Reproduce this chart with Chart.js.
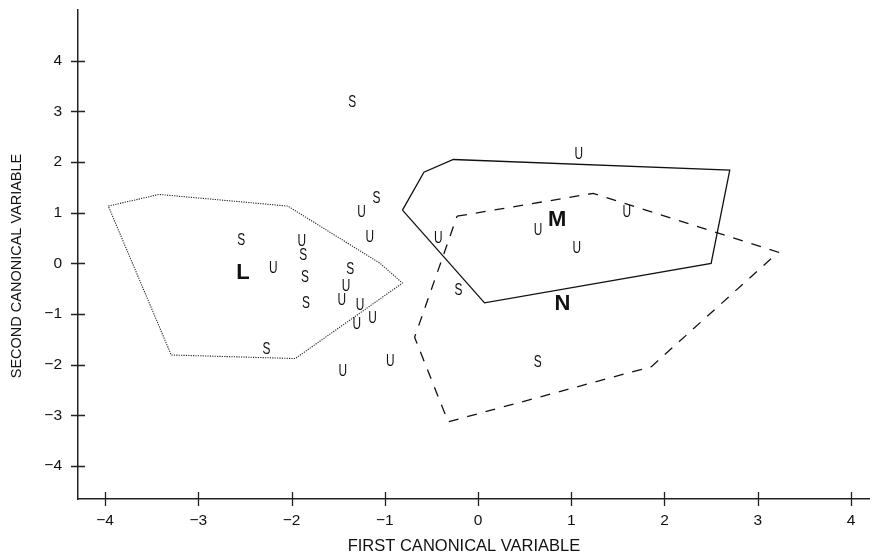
<!DOCTYPE html>
<html>
<head>
<meta charset="utf-8">
<script src="https://cdn.jsdelivr.net/npm/chart.js@4/dist/chart.umd.min.js"></script>
<style>
html,body{margin:0;padding:0;background:#fff;}
canvas{display:block;}
</style>
</head>
<body>
<canvas id="c" width="870" height="555"></canvas>
<script>
// ---- data ----
const xTicks = [-4, -3, -2, -1, 0, 1, 2, 3, 4];
const yTicks = [-4, -3, -2, -1, 0, 1, 2, 3, 4];
const xTitle = 'FIRST CANONICAL VARIABLE';
const yTitle = 'SECOND CANONICAL VARIABLE';

// region L (dotted outline)
const regionLx = [-3.965, -3.42, -2.04, -1.05, -0.81, -1.96, -3.29, -3.965];
const regionLy = [1.13, 1.36, 1.13, 0.0, -0.39, -1.88, -1.81, 1.13];
// region M (dashed outline)
const regionMx = [-0.225, 1.235, 3.22, 1.86, -0.32, -0.68, -0.225];
const regionMy = [0.93, 1.38, 0.22, -2.04, -3.13, -1.46, 0.93];
// region N (solid outline)
const regionNx = [-0.81, -0.58, -0.265, 2.70, 2.50, 0.07, -0.81];
const regionNy = [1.05, 1.80, 2.05, 1.84, 0.0, -0.78, 1.05];

// observations marked "S"
const sX = [-2.54, -1.875, -1.855, -1.845, -1.37, -2.27, -1.09, -1.35, -0.21, 0.64];
const sY = [0.48, 0.18, -0.26, -0.77, -0.11, -1.69, 1.31, 3.20, -0.51, -1.94];
// observations marked "U"
const uX = [-2.195, -1.89, -1.415, -1.46, -1.265, -1.30, -1.13, -1.25, -1.16, -0.94, -1.45, 1.08, 0.645, 1.06, 1.595, -0.425];
const uY = [-0.09, 0.46, -0.43, -0.71, -0.82, -1.18, -1.07, 1.02, 0.54, -1.91, -2.11, 2.17, 0.67, 0.32, 1.02, 0.51];
// group labels
const groupNames = ['L', 'M', 'N'];
const groupX = [-2.52, 0.85, 0.905];
const groupY = [-0.18, 0.87, -0.79];

// ---- build chart ----
const zip = (xs, ys) => xs.map((x, i) => ({x: x, y: ys[i]}));
const fmt = v => (v < 0 ? '\u2212' + Math.abs(v) : String(v));
const FONT = '"Liberation Sans", Arial, Helvetica, sans-serif';

const outline = (xs, ys, dash, width, color) => ({
  type: 'scatter', data: zip(xs, ys), showLine: true, fill: false,
  borderColor: color, borderWidth: width, borderDash: dash,
  pointRadius: 0, pointHoverRadius: 0, tension: 0, clip: false
});
const marks = (xs, ys, txt, kind) => ({
  type: 'scatter', data: zip(xs, ys), pointRadius: 0, pointHoverRadius: 0,
  showLine: false, markText: txt, markKind: kind, clip: false
});

const markPlugin = {
  id: 'marks',
  afterDatasetsDraw(chart) {
    const ctx = chart.ctx;
    chart.data.datasets.forEach((ds, i) => {
      if (!ds.markKind) return;
      const meta = chart.getDatasetMeta(i);
      meta.data.forEach((el, j) => {
        const t = Array.isArray(ds.markText) ? ds.markText[j] : ds.markText;
        ctx.save();
        ctx.fillStyle = '#111';
        ctx.textAlign = 'center';
        ctx.textBaseline = 'middle';
        if (ds.markKind === 'group') {
          ctx.font = 'bold 22px ' + FONT;
          ctx.fillText(t, el.x, el.y + 1);
        } else {
          ctx.translate(el.x, el.y + 1);
          ctx.scale(0.72, 1);
          ctx.font = '16.5px ' + FONT;
          ctx.fillText(t, 0, 0);
        }
        ctx.restore();
      });
    });
  }
};

const axisPlugin = {
  id: 'axisExtras',
  afterDraw(chart) {
    const ctx = chart.ctx;
    const xs = chart.scales.x, ys = chart.scales.y;
    ctx.save();
    ctx.strokeStyle = '#222';
    ctx.lineWidth = 1.3;
    ctx.beginPath();
    xs.ticks.forEach(t => {
      const px = Math.round(xs.getPixelForValue(t.value)) + 0.5;
      ctx.moveTo(px, ys.bottom - 7);
      ctx.lineTo(px, ys.bottom + 7);
    });
    ys.ticks.forEach(t => {
      const py = Math.round(ys.getPixelForValue(t.value)) + 0.5;
      ctx.moveTo(xs.left - 7, py);
      ctx.lineTo(xs.left + 7, py);
    });
    ctx.stroke();
    // axis titles
    ctx.fillStyle = '#111';
    ctx.textAlign = 'center';
    ctx.textBaseline = 'middle';
    ctx.font = '16.5px ' + FONT;
    ctx.fillText(xTitle, 464, 546);
    ctx.translate(17, 266);
    ctx.rotate(-Math.PI / 2);
    ctx.font = '14.5px ' + FONT;
    ctx.fillText(yTitle, 0, 0);
    ctx.restore();
  }
};

new Chart(document.getElementById('c'), {
  type: 'scatter',
  data: {
    datasets: [
      outline(regionLx, regionLy, [1.2, 1.2], 1.1, '#222'),
      outline(regionMx, regionMy, [10, 9], 1.3, '#111'),
      outline(regionNx, regionNy, [], 1.3, '#111'),
      marks(sX, sY, 'S', 'obs'),
      marks(uX, uY, 'U', 'obs'),
      marks(groupX, groupY, groupNames, 'group')
    ]
  },
  options: {
    responsive: false,
    animation: false,
    devicePixelRatio: 1,
    layout: {padding: {top: 9.5, right: 0, bottom: 0, left: 0}},
    plugins: {legend: {display: false}, tooltip: {enabled: false}, title: {display: false}},
    scales: {
      x: {
        type: 'linear', position: 'bottom',
        min: -4.29, max: 4.204,
        afterBuildTicks: s => { s.ticks = xTicks.map(v => ({value: v})); },
        afterFit: s => { s.height = 56; s.paddingLeft = 0; s.paddingRight = 0; },
        grid: {display: false},
        border: {display: true, color: '#222', width: 1.5},
        ticks: {
          padding: 4, color: '#111', font: {family: FONT, size: 15.5},
          maxRotation: 0, autoSkip: false, callback: v => fmt(v)
        }
      },
      y: {
        type: 'linear', position: 'left',
        min: -4.653, max: 5.011,
        afterBuildTicks: s => { s.ticks = yTicks.map(v => ({value: v})); },
        afterFit: s => { s.width = 78; s.paddingTop = 0; s.paddingBottom = 0; },
        grid: {display: false},
        border: {display: true, color: '#222', width: 1.5},
        ticks: {
          padding: 8, color: '#111', font: {family: FONT, size: 15.5},
          autoSkip: false, callback: v => fmt(v)
        }
      }
    }
  },
  plugins: [markPlugin, axisPlugin]
});
</script>
</body>
</html>
